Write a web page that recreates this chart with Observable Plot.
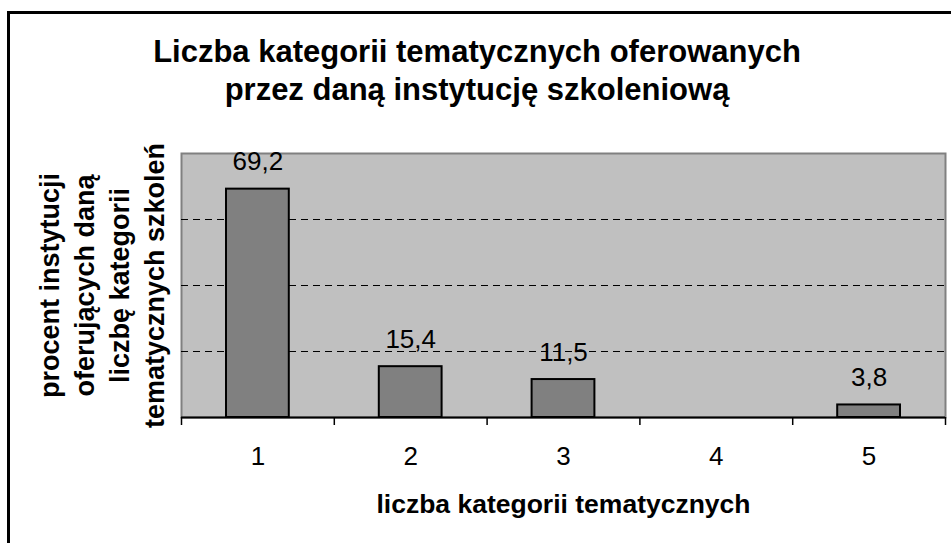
<!DOCTYPE html>
<html>
<head>
<meta charset="utf-8">
<script src="https://cdn.jsdelivr.net/npm/d3@7"></script>
<script src="https://cdn.jsdelivr.net/npm/@observablehq/plot@0.6"></script>
<style>
  html, body { margin: 0; padding: 0; background: #fff; }
  #wrap { position: relative; width: 951px; height: 543px; overflow: hidden; font-family: "Liberation Sans", Arial, sans-serif; }
  #frame { position: absolute; left: 7px; top: 11px; width: 1000px; height: 600px; border-left: 3px solid #000; border-top: 3px solid #000; box-sizing: border-box; }
  #title { position: absolute; left: 0; top: 33px; width: 954px; text-align: center; font-weight: bold; font-size: 31px; line-height: 38px; color: #000; }
  #chart { position: absolute; left: 0; top: 0; }
</style>
</head>
<body>
<div id="wrap">
  <div id="frame"></div>
  <div id="title">Liczba kategorii tematycznych oferowanych<br>przez daną instytucję szkoleniową</div>
  <div id="chart"></div>
</div>
<script>
const categories = [1, 2, 3, 4, 5];
const values = [69.2, 15.4, 11.5, null, 3.8];
const gridValues = [20, 40, 60];
const yDomain = [0, 80];
const xTitle = "liczba kategorii tematycznych";
const yTitle = "procent instytucji\noferujących daną\nliczbę kategorii\ntematycznych szkoleń";

const data = categories.map((c, i) => ({cat: c, value: values[i]})).filter(d => d.value != null);
const boundaries = [0.5, 1.5, 2.5, 3.5, 4.5, 5.5];
const fmt = v => String(v).replace(".", ",");

const chart = Plot.plot({
  width: 951,
  height: 543,
  marginTop: 153,
  marginBottom: 126,
  marginLeft: 181,
  marginRight: 6,
  style: {background: "transparent", fontFamily: "'Liberation Sans', Arial, sans-serif", color: "#000"},
  x: {type: "linear", domain: [0.5, 5.5], axis: null},
  y: {domain: yDomain, axis: null},
  marks: [
    Plot.frame({fill: "#c0c0c0", stroke: "#808080", strokeWidth: 2}),
    Plot.ruleY(gridValues, {stroke: "#000", strokeWidth: 1, strokeDasharray: "7,5"}),
    Plot.rectY(data, {x1: d => d.cat - 0.5, x2: d => d.cat + 0.5, y: "value", insetLeft: 45, insetRight: 45, fill: "#808080", stroke: "#000", strokeWidth: 2}),
    Plot.ruleY([0], {stroke: "#000", strokeWidth: 2}),
    Plot.axisX(boundaries, {tickSize: 8, tickFormat: () => "", label: null, strokeWidth: 1.5}),
    Plot.axisX(categories, {tickSize: 0, tickPadding: 29, fontSize: 26, label: null, tickFormat: d => String(d)}),
    Plot.text(data, {x: "cat", y: "value", text: d => fmt(d.value), lineAnchor: "bottom", dy: -19, fontSize: 26, fill: "#000"}),
    Plot.text([xTitle], {frameAnchor: "bottom", dy: 95, lineAnchor: "bottom", fontSize: 26.5, fontWeight: "bold", fill: "#000"}),
    Plot.text([yTitle], {frameAnchor: "left", dx: -81, rotate: -90, textAnchor: "middle", lineAnchor: "middle", lineHeight: 1.3, fontSize: 27, fontWeight: "bold", fill: "#000"})
  ]
});
document.getElementById("chart").appendChild(chart);
</script>
</body>
</html>
